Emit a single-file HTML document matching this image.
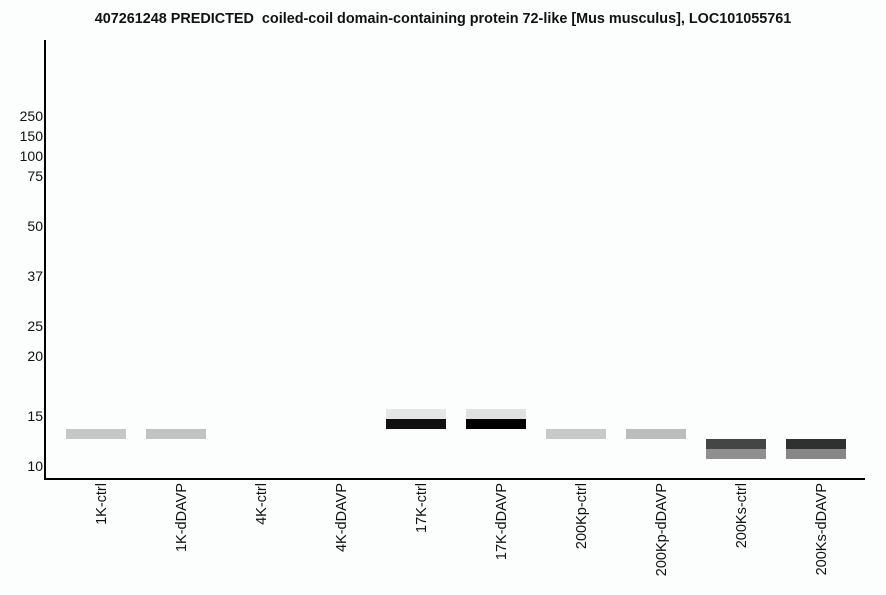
<!DOCTYPE html>
<html><head><style>
body{margin:0;width:886px;height:595px;background:#fcfefe;position:relative;font-family:"Liberation Sans",sans-serif;overflow:hidden}
.t{position:absolute;top:11px;left:0;width:886px;text-align:center;font-weight:bold;font-size:14.4px;color:#111}
.y{position:absolute;right:843px;font-size:14px;color:#111;line-height:14px}
.b{position:absolute;width:60px;height:10px}
.l{position:absolute;top:483px;font-size:14.5px;color:#111;writing-mode:vertical-rl;transform:rotate(180deg);white-space:nowrap;line-height:14px}
</style></head><body>
<div class="t">407261248 PREDICTED&nbsp; coiled-coil domain-containing protein 72-like [Mus musculus], LOC101055761</div>
<div style="position:absolute;left:44px;top:40px;width:2px;height:440px;background:#000"></div>
<div style="position:absolute;left:44px;top:478px;width:821px;height:2px;background:#000"></div>
<div class="y" style="top:109px">250</div>
<div class="y" style="top:129px">150</div>
<div class="y" style="top:149px">100</div>
<div class="y" style="top:169px">75</div>
<div class="y" style="top:219px">50</div>
<div class="y" style="top:269px">37</div>
<div class="y" style="top:319px">25</div>
<div class="y" style="top:349px">20</div>
<div class="y" style="top:409px">15</div>
<div class="y" style="top:459px">10</div>
<div class="b" style="left:66px;top:429px;background:#c6c6c6"></div>
<div class="b" style="left:146px;top:429px;background:#c2c2c2"></div>
<div class="b" style="left:386px;top:409px;background:#e6e6e6"></div>
<div class="b" style="left:386px;top:419px;background:#111"></div>
<div class="b" style="left:466px;top:409px;background:#e0e0e0"></div>
<div class="b" style="left:466px;top:419px;background:#000"></div>
<div class="b" style="left:546px;top:429px;background:#c8c8c8"></div>
<div class="b" style="left:626px;top:429px;background:#bbbdbd"></div>
<div class="b" style="left:706px;top:439px;background:#444646"></div>
<div class="b" style="left:706px;top:449px;background:#8f8f8f"></div>
<div class="b" style="left:786px;top:439px;background:#2f3131"></div>
<div class="b" style="left:786px;top:449px;background:#878787"></div>
<div class="l" style="left:95px">1K-ctrl</div>
<div class="l" style="left:175px">1K-dDAVP</div>
<div class="l" style="left:255px">4K-ctrl</div>
<div class="l" style="left:335px">4K-dDAVP</div>
<div class="l" style="left:415px">17K-ctrl</div>
<div class="l" style="left:495px">17K-dDAVP</div>
<div class="l" style="left:575px">200Kp-ctrl</div>
<div class="l" style="left:655px">200Kp-dDAVP</div>
<div class="l" style="left:735px">200Ks-ctrl</div>
<div class="l" style="left:815px">200Ks-dDAVP</div>
</body></html>
